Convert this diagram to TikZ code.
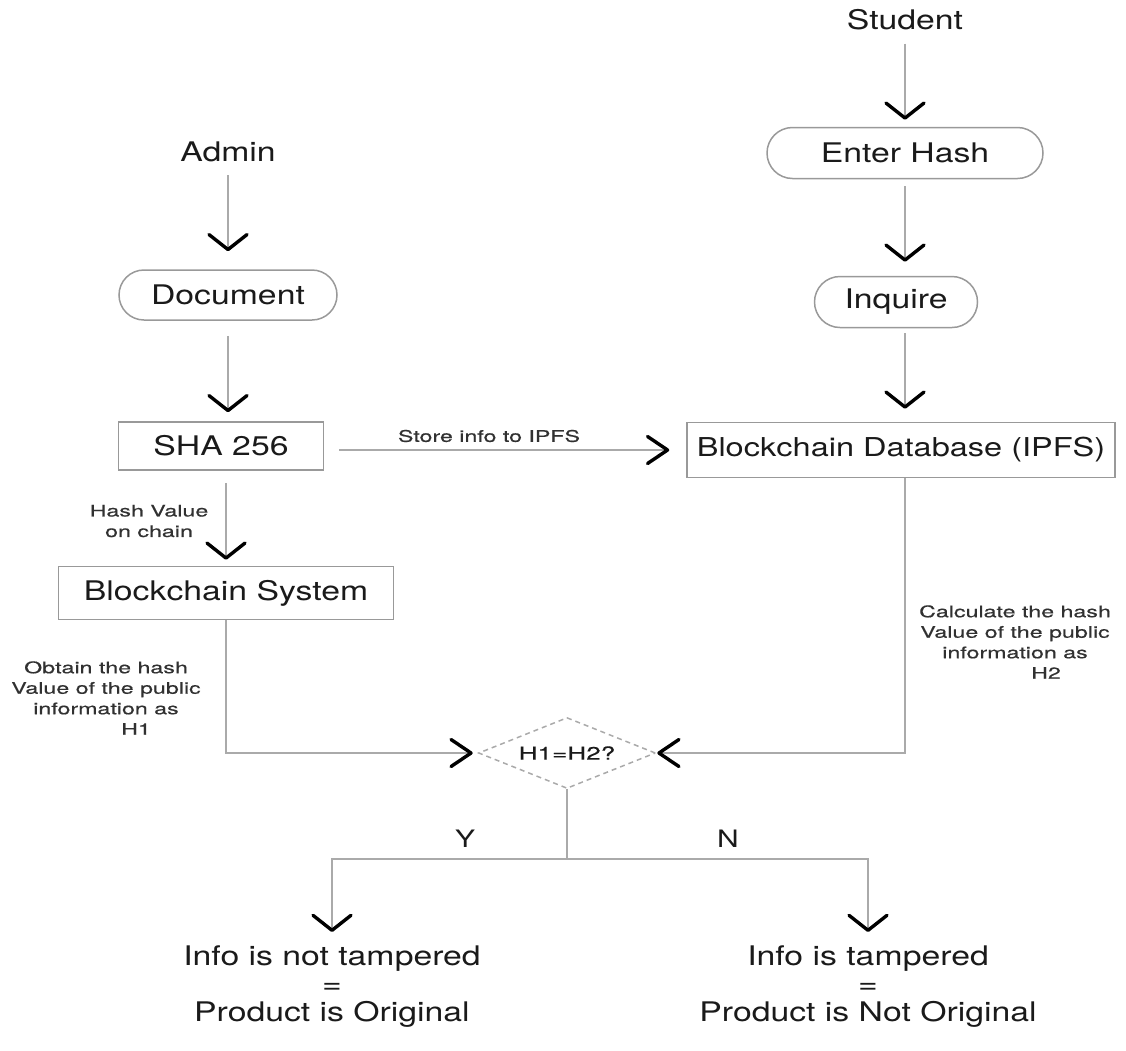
\documentclass[tikz,border=0pt]{standalone}
\usepackage{fontspec}
\setmainfont{TeX Gyre Heros}[FakeStretch=1.25]
\newfontfamily\lblfont{TeX Gyre Heros}[FakeStretch=1.45,FakeBold=0.6]
\usetikzlibrary{arrows.meta,shapes.geometric,shapes.misc}
\definecolor{linegrey}{HTML}{AAAAAA}
\definecolor{boxgrey}{HTML}{999999}
\definecolor{txt}{HTML}{1A1A1A}
\tikzset{
  vchev/.tip={Straight Barb[length=15pt,width=38pt,line width=3.4pt,color=black,round]},
  hchev/.tip={Straight Barb[length=20pt,width=27pt,line width=3.4pt,color=black,round]},
  conn/.style={draw=linegrey,line width=2pt},
  big/.style={font=\fontsize{27}{29}\selectfont,text=txt,inner sep=0pt},
  lbl/.style={font=\lblfont\fontsize{16}{20.5}\selectfont,text=txt!90,inner sep=0pt,align=center},
  pill/.style={big,draw=boxgrey,line width=1.5pt,rounded rectangle},
  rbox/.style={big,draw=boxgrey,line width=1.5pt,rectangle},
  outcome/.style={big,align=center,anchor=north,font=\fontsize{27}{28}\selectfont},
}
\begin{document}
\begin{tikzpicture}[x=1pt,y=-1pt]
\useasboundingbox (0,0) rectangle (1126,1050);
% left column
\node[big] (admin) at (228,152) {Admin};
\node[pill,minimum width=218pt,minimum height=50pt] (doc) at (228,295) {Document};
\node[rbox,minimum width=205pt,minimum height=48pt] (sha) at (221,446) {SHA 256};
\node[rbox,minimum width=335pt,minimum height=53pt] (bs) at (226,593) {Blockchain System};
% right column
\node[big] (student) at (905,20) {Student};
\node[pill,minimum width=276pt,minimum height=51pt] (enter) at (905,153) {Enter Hash};
\node[pill,minimum width=163pt,minimum height=51pt] (inq) at (896,302) {Inquire};
\node[rbox,minimum width=428pt,minimum height=55pt,font=\fontsize{26}{28}\selectfont] (bd) at (901,450) {Blockchain Database (IPFS)};
% decision
\node[diamond,aspect=2.5,draw=linegrey,line width=1.5pt,dash pattern=on 5pt off 4pt,
      minimum width=177pt,minimum height=71pt,inner sep=0pt,
      font=\lblfont\fontsize{18}{20}\selectfont,text=txt] (dia) at (567,753) {H1=H2?};
\coordinate (split) at (567,859);
% outcomes
\node[outcome] (ok) at (332,946) {Info is not tampered\\=\\Product is Original};
\node[outcome] (bad) at (868,946) {Info is tampered\\=\\Product is Not Original};
% labels
\node[lbl] (store) at (489,436) {Store info to IPFS};
\node[lbl] (hv) at (149,521) {Hash Value\\on chain};
\node[lbl] (obt) at (106,698) {Obtain the hash\\Value of the public\\information as\\\hspace*{60pt}H1};
\node[lbl] (calc) at (1015,642) {Calculate the hash\\Value of the public\\information as\\\hspace*{62pt}H2};
\node[big,font=\fontsize{24}{26}\selectfont] (yes) at (465,839) {Y};
\node[big,font=\fontsize{24}{26}\selectfont] (no) at (728,839) {N};
% connectors
\draw[conn,-vchev,shorten <=13pt,shorten >=18pt] (admin) -- (doc);
\draw[conn,-vchev,shorten <=15pt,shorten >=9pt] (doc.south) -- (doc.south |- sha.north);
\draw[conn,-vchev,shorten <=12pt,shorten >=6pt] (bs.north |- sha.south) -- (bs.north);
\draw[conn,-hchev,shorten <=15pt,shorten >=17pt] (sha.east |- bd.west) -- (bd.west);
\draw[conn,-vchev,shorten <=13pt,shorten >=7pt] (student) -- (enter);
\draw[conn,-vchev,shorten <=7pt,shorten >=14pt] (enter.south) -- (enter.south |- inq.north);
\draw[conn,-vchev,shorten <=5pt,shorten >=13pt] (enter.south |- inq.south) -- (enter.south |- bd.north);
\draw[conn,-hchev,shorten >=5pt] (bs.south) |- (dia.west);
\draw[conn,-hchev,shorten >=1pt] ([xshift=4pt]bd.south) |- (dia.east);
\draw[conn] (dia.south) -- (split);
\draw[conn,-vchev,shorten >=14pt] (split) -| (ok.north);
\draw[conn,-vchev,shorten >=14pt] (split) -| (bad.north);
\end{tikzpicture}
\end{document}
